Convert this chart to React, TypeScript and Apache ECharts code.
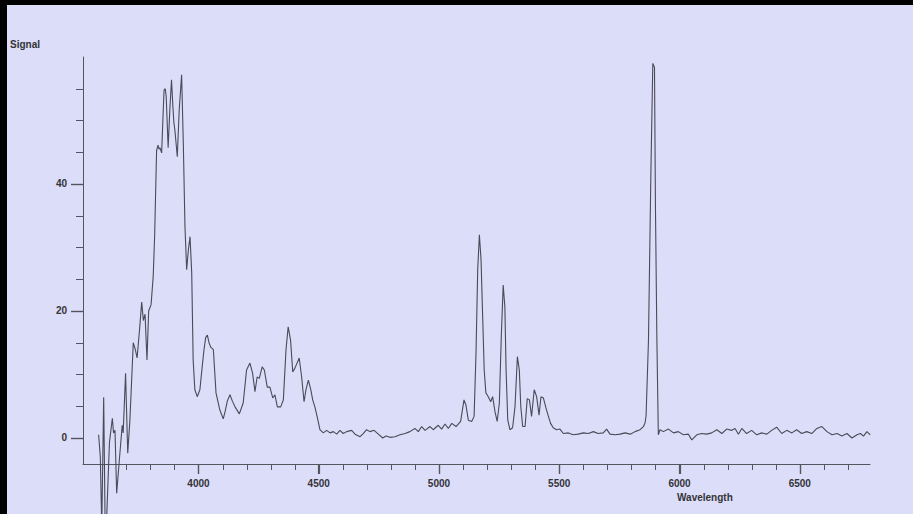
import React, { useEffect, useRef } from "react";
import * as echarts from "echarts";

const wavelengths = [
  3585, 3592, 3598, 3606, 3612, 3617, 3630, 3642, 3647, 3653, 3660, 3671, 3683, 3687, 3697, 3706, 3715,
  3729, 3737, 3745, 3756, 3764, 3771, 3778, 3786, 3793, 3803, 3812, 3818, 3826, 3832, 3836, 3840, 3847,
  3852, 3857, 3862, 3866, 3874, 3881, 3888, 3894, 3898, 3902, 3912, 3920, 3930, 3937, 3944, 3951, 3958,
  3965, 3972, 3978, 3985, 3995, 4006, 4015, 4023, 4030, 4037, 4044, 4051, 4062, 4073, 4089, 4103, 4111,
  4120, 4131, 4141, 4152, 4170, 4186, 4200, 4214, 4225, 4235, 4244, 4253, 4265, 4274, 4286, 4297, 4309,
  4318, 4328, 4342, 4353, 4364, 4373, 4383, 4392, 4401, 4419, 4429, 4439, 4447, 4457, 4467, 4475, 4484,
  4494, 4505, 4519, 4533, 4547, 4561, 4575, 4588, 4602, 4616, 4637, 4651, 4672, 4685, 4699, 4713, 4730,
  4748, 4766, 4780, 4796, 4817, 4838, 4859, 4879, 4900, 4914, 4928, 4942, 4963, 4976, 4997, 5011, 5025,
  5039, 5053, 5071, 5090, 5104, 5112, 5122, 5136, 5146, 5154, 5161, 5168, 5175, 5182, 5188, 5195, 5205,
  5215, 5223, 5233, 5242, 5251, 5259, 5267, 5274, 5279, 5286, 5295, 5306, 5316, 5326, 5334, 5340, 5348,
  5358, 5367, 5376, 5385, 5396, 5406, 5416, 5424, 5434, 5445, 5455, 5464, 5475, 5489, 5503, 5517, 5538,
  5558, 5579, 5600, 5621, 5642, 5662, 5683, 5697, 5711, 5732, 5753, 5774, 5795, 5815, 5836, 5850, 5857,
  5861, 5871, 5881, 5889, 5896, 5900, 5906, 5912, 5919, 5933, 5954, 5975, 5995, 6016, 6037, 6051, 6072,
  6092, 6113, 6134, 6155, 6176, 6196, 6217, 6231, 6245, 6259, 6279, 6300, 6321, 6342, 6363, 6383, 6404,
  6425, 6446, 6467, 6487, 6508, 6529, 6550, 6571, 6592, 6613, 6634, 6655, 6675, 6696, 6717, 6738, 6752,
  6765, 6779, 6793,
];

const signal = [
  0.5, -3, -14, 6.4, -14, -14, -0.7, 3.1, 0.8, 1.2, -8.7, -3.5, 2.0, 0.8, 10.2, -2.4, 2.8,
  15.0, 14.0, 12.6, 17.5, 21.4, 18.5, 19.5, 12.3, 20.0, 21.0, 25.5, 32, 45.3, 46.1, 45.5, 45.7, 44.9,
  50, 54.8, 55, 53.7, 45.7, 51.7, 56.4, 52, 49.6, 48.5, 44.3, 51.7, 57.2, 46.5, 33.2, 26.5, 29.6,
  31.7, 26.0, 12.3, 7.6, 6.5, 7.6, 11, 13.9, 15.8, 16.2, 15, 14.3, 13.9, 7.1, 4.4, 3.0, 4.2,
  5.8, 6.8, 5.8, 4.9, 3.8, 5.5, 10.7, 11.8, 10.2, 7.3, 9.6, 9.4, 11.2, 10.7, 8.0, 8.0, 6.3,
  6.8, 4.9, 4.9, 6.0, 13.9, 17.5, 15.4, 10.4, 11.0, 12.6, 9.6, 5.7, 7.6, 9.1, 7.6, 6.0, 4.9,
  3.3, 1.3, 0.8, 1.2, 0.8, 1.0, 0.6, 1.2, 0.7, 1.0, 1.2, 0.6, 0.2, 0.7, 1.3, 1.0, 1.2,
  0.6, 0.0, 0.3, 0.1, 0.2, 0.5, 0.7, 1.0, 1.5, 1.0, 1.8, 1.2, 1.8, 1.3, 2.0, 1.4, 2.2,
  1.5, 2.3, 1.8, 2.6, 6.0, 5.2, 2.8, 2.6, 3.4, 13.4, 26.5, 32.0, 28.0, 18.6, 10.7, 7.1, 6.5,
  5.7, 6.5, 4.1, 2.6, 5.5, 15.9, 24.1, 20.6, 10.7, 2.8, 1.3, 1.6, 4.9, 12.8, 10.7, 5.0, 1.8,
  1.8, 6.2, 6.0, 3.4, 7.6, 6.5, 3.6, 6.5, 6.3, 4.7, 3.4, 2.3, 1.6, 1.3, 1.4, 0.7, 0.8,
  0.5, 0.6, 0.8, 0.7, 1.0, 0.7, 0.8, 1.4, 0.6, 0.5, 0.6, 0.8, 0.6, 1.0, 1.3, 1.8, 2.4,
  3.5, 15.4, 41.7, 59.0, 58.4, 36.4, 15.4, 0.5, 1.3, 1.0, 1.4, 0.8, 1.0, 0.5, 0.6, -0.3, 0.5,
  0.7, 0.6, 0.8, 1.3, 0.7, 1.4, 1.2, 1.5, 0.6, 1.5, 0.7, 1.2, 0.5, 0.8, 0.6, 1.2, 1.7,
  0.7, 1.2, 0.8, 1.3, 0.7, 1.0, 0.7, 1.5, 1.8, 1.0, 0.5, 0.7, 0.3, 0.7, 0.0, 0.5, 0.7,
  0.3, 1.0, 0.5,
];

const xMajorTicks = [4000, 4500, 5000, 5500, 6000, 6500];
const xMinorTicks = [
  3600, 3700, 3800, 3900, 4100, 4200, 4300, 4400, 4600, 4700, 4800, 4900, 5100, 5200, 5300, 5400,
  5600, 5700, 5800, 5900, 6100, 6200, 6300, 6400, 6600, 6700,
];
const yMajorTicks = [0, 20, 40];
const yMinorTicks = [5, 10, 15, 25, 30, 35, 45, 50, 55];

const FONT = "'Liberation Sans', Arial, sans-serif";
const AXIS_COLOR = "#555560";
const TEXT_COLOR = "#333338";

export default function App() {
  const ref = useRef<HTMLDivElement>(null);

  useEffect(() => {
    if (!ref.current) return;
    const chart = echarts.init(ref.current, null, { renderer: "svg" });
    const data = wavelengths.map((w, i) => [w, signal[i]]);
    const xMin = 3520;
    const xMax = 6792;
    const yMin = -4.1;
    const yMax = 60;
    const labelStyle = {
      color: TEXT_COLOR,
      fontSize: 10,
      fontWeight: "bold",
      fontFamily: FONT,
      formatter: (v: number) => String(v),
    };
    const texts = [
      {
        type: "text",
        left: 3,
        top: 34,
        z: 10,
        style: { text: "Signal", fontSize: 10, fontWeight: "bold", fill: TEXT_COLOR, fontFamily: FONT },
      },
      {
        type: "text",
        left: 670,
        top: 487,
        z: 10,
        style: { text: "Wavelength", fontSize: 10, fontWeight: "bold", fill: TEXT_COLOR, fontFamily: FONT },
      },
    ];
    chart.setOption({
      animation: false,
      backgroundColor: "#dcddf8",
      grid: { left: 76, top: 52, right: 43, bottom: 50 },
      xAxis: [
        {
          type: "value",
          min: xMin,
          max: xMax,
          position: "bottom",
          axisLine: { show: true, onZero: false, lineStyle: { color: AXIS_COLOR, width: 1 } },
          axisTick: { show: true, length: 10, customValues: [...xMajorTicks], lineStyle: { color: AXIS_COLOR, width: 1.2 } },
          axisLabel: { ...labelStyle, customValues: [...xMajorTicks], margin: 14 },
          splitLine: { show: false },
        },
      ],
      yAxis: [
        {
          type: "value",
          min: yMin,
          max: yMax,
          position: "left",
          axisLine: { show: true, onZero: false, lineStyle: { color: AXIS_COLOR, width: 1 } },
          axisTick: { show: true, length: 12, customValues: [...yMajorTicks], lineStyle: { color: AXIS_COLOR, width: 1.2 } },
          axisLabel: { ...labelStyle, customValues: [...yMajorTicks], margin: 16 },
          splitLine: { show: false },
        },
      ],
      graphic: texts,
      series: [
        {
          type: "line",
          xAxisIndex: 0,
          yAxisIndex: 0,
          data,
          symbol: "none",
          showSymbol: false,
          clip: false,
          silent: true,
          lineStyle: { color: "#4a4a58", width: 1.1 },
        },
      ],
    });

    // axis ticks, positioned through the axes' own scales
    try {
      const finder = { xAxisIndex: 0, yAxisIndex: 0 };
      const tickLines: any[] = [];
      const addX = (v: number, len: number, w: number) => {
        const p = chart.convertToPixel(finder, [v, yMin]) as number[];
        if (!p || !isFinite(p[0]) || !isFinite(p[1])) return;
        const x = Math.round(p[0]) + 0.5;
        const y = Math.round(p[1]);
        tickLines.push({
          type: "line",
          z: 20,
          shape: { x1: x, y1: y, x2: x, y2: y + len },
          style: { stroke: AXIS_COLOR, lineWidth: w },
        });
      };
      const addY = (v: number, len: number, w: number) => {
        const p = chart.convertToPixel(finder, [xMin, v]) as number[];
        if (!p || !isFinite(p[0]) || !isFinite(p[1])) return;
        const x = Math.round(p[0]);
        const y = Math.round(p[1]) + 0.5;
        tickLines.push({
          type: "line",
          z: 20,
          shape: { x1: x - len, y1: y, x2: x, y2: y },
          style: { stroke: AXIS_COLOR, lineWidth: w },
        });
      };
      xMinorTicks.forEach((v) => addX(v, 6, 1));
      yMinorTicks.forEach((v) => addY(v, 7, 1));
      xMajorTicks.forEach((v) => addX(v, 10, 1.2));
      yMajorTicks.forEach((v) => addY(v, 12, 1.2));
      chart.setOption({ graphic: [...texts, ...tickLines] });
    } catch (e) {
      // leave the chart without extra ticks
    }
    return () => chart.dispose();
  }, []);

  return (
    <div style={{ position: "fixed", left: 0, top: 0, width: 913, height: 514, background: "#000" }}>
      <div ref={ref} style={{ position: "absolute", left: 7, top: 5, width: 906, height: 509 }} />
    </div>
  );
}
